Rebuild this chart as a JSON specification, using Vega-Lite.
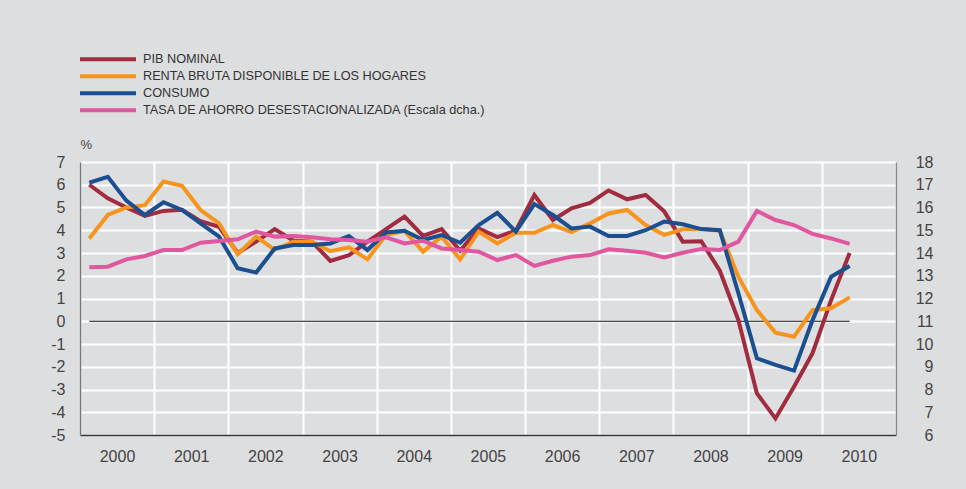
{
  "$schema": "https://vega.github.io/schema/vega-lite/v6.json",
  "width": 816,
  "height": 273,
  "autosize": {"type": "none"},
  "padding": {"left": 80, "top": 162, "right": 70, "bottom": 54},
  "background": "#dddee0",
  "config": {
    "view": {"stroke": null},
    "font": "Liberation Sans",
    "axis": {"labelFont": "Liberation Sans", "titleFont": "Liberation Sans", "labelColor": "#444", "labelFontSize": 16, "ticks": false, "tickSize": 0, "gridColor": "#ffffff", "gridWidth": 2, "gridOpacity": 1, "labelOverlap": false, "labelSeparation": 0}
  },
  "datasets": {
    "d": [
      {"t": 2000.125, "pib": 6.0, "renta": 3.64, "consumo": 6.09, "tasa": 13.37},
      {"t": 2000.375, "pib": 5.4, "renta": 4.67, "consumo": 6.35, "tasa": 13.4},
      {"t": 2000.625, "pib": 5.0, "renta": 5.0, "consumo": 5.3, "tasa": 13.72},
      {"t": 2000.875, "pib": 4.63, "renta": 5.1, "consumo": 4.67, "tasa": 13.87},
      {"t": 2001.125, "pib": 4.85, "renta": 6.14, "consumo": 5.23, "tasa": 14.13},
      {"t": 2001.375, "pib": 4.9, "renta": 5.95, "consumo": 4.89, "tasa": 14.13},
      {"t": 2001.625, "pib": 4.4, "renta": 4.89, "consumo": 4.3, "tasa": 14.45},
      {"t": 2001.875, "pib": 4.15, "renta": 4.3, "consumo": 3.72, "tasa": 14.53},
      {"t": 2002.125, "pib": 3.0, "renta": 2.95, "consumo": 2.33, "tasa": 14.6},
      {"t": 2002.375, "pib": 3.5, "renta": 3.72, "consumo": 2.14, "tasa": 14.94},
      {"t": 2002.625, "pib": 4.05, "renta": 3.14, "consumo": 3.2, "tasa": 14.72},
      {"t": 2002.875, "pib": 3.55, "renta": 3.5, "consumo": 3.35, "tasa": 14.75},
      {"t": 2003.125, "pib": 3.5, "renta": 3.5, "consumo": 3.35, "tasa": 14.69},
      {"t": 2003.375, "pib": 2.65, "renta": 3.08, "consumo": 3.42, "tasa": 14.6},
      {"t": 2003.625, "pib": 2.9, "renta": 3.25, "consumo": 3.75, "tasa": 14.57},
      {"t": 2003.875, "pib": 3.5, "renta": 2.72, "consumo": 3.13, "tasa": 14.5},
      {"t": 2004.125, "pib": 4.05, "renta": 3.8, "consumo": 3.9, "tasa": 14.69},
      {"t": 2004.375, "pib": 4.6, "renta": 3.97, "consumo": 3.98, "tasa": 14.42},
      {"t": 2004.625, "pib": 3.75, "renta": 3.06, "consumo": 3.57, "tasa": 14.54},
      {"t": 2004.875, "pib": 4.05, "renta": 3.72, "consumo": 3.79, "tasa": 14.2},
      {"t": 2005.125, "pib": 3.1, "renta": 2.72, "consumo": 3.45, "tasa": 14.13},
      {"t": 2005.375, "pib": 4.08, "renta": 3.94, "consumo": 4.23, "tasa": 14.06},
      {"t": 2005.625, "pib": 3.7, "renta": 3.42, "consumo": 4.77, "tasa": 13.69},
      {"t": 2005.875, "pib": 3.98, "renta": 3.89, "consumo": 3.94, "tasa": 13.91},
      {"t": 2006.125, "pib": 5.55, "renta": 3.89, "consumo": 5.15, "tasa": 13.43},
      {"t": 2006.375, "pib": 4.45, "renta": 4.23, "consumo": 4.67, "tasa": 13.66},
      {"t": 2006.625, "pib": 4.96, "renta": 3.92, "consumo": 4.08, "tasa": 13.84},
      {"t": 2006.875, "pib": 5.2, "renta": 4.3, "consumo": 4.16, "tasa": 13.91},
      {"t": 2007.125, "pib": 5.75, "renta": 4.74, "consumo": 3.75, "tasa": 14.16},
      {"t": 2007.375, "pib": 5.36, "renta": 4.89, "consumo": 3.75, "tasa": 14.1},
      {"t": 2007.625, "pib": 5.55, "renta": 4.23, "consumo": 4.0, "tasa": 14.01},
      {"t": 2007.875, "pib": 4.83, "renta": 3.8, "consumo": 4.38, "tasa": 13.81},
      {"t": 2008.125, "pib": 3.5, "renta": 4.04, "consumo": 4.26, "tasa": 14.01},
      {"t": 2008.375, "pib": 3.52, "renta": 4.06, "consumo": 4.05, "tasa": 14.18},
      {"t": 2008.625, "pib": 2.22, "renta": 3.98, "consumo": 4.0, "tasa": 14.13},
      {"t": 2008.875, "pib": 0.05, "renta": 1.96, "consumo": 1.23, "tasa": 14.5},
      {"t": 2009.125, "pib": -3.17, "renta": 0.49, "consumo": -1.63, "tasa": 15.85},
      {"t": 2009.375, "pib": -4.27, "renta": -0.5, "consumo": -1.92, "tasa": 15.45},
      {"t": 2009.625, "pib": -2.88, "renta": -0.68, "consumo": -2.17, "tasa": 15.23},
      {"t": 2009.875, "pib": -1.4, "renta": 0.49, "consumo": 0.05, "tasa": 14.84},
      {"t": 2010.125, "pib": 0.93, "renta": 0.57, "consumo": 1.96, "tasa": 14.64},
      {"t": 2010.375, "pib": 3.0, "renta": 1.05, "consumo": 2.43, "tasa": 14.4}
    ]
  },
  "data": {"name": "d"},
  "layer": [
    {
      "layer": [
        {
          "data": {"values": [{"a": 2000.125, "b": 2010.375, "z": 0}]},
          "mark": {"type": "rule", "color": "#111111", "strokeWidth": 1},
          "encoding": {
            "x": {"field": "a", "type": "quantitative", "scale": {"domain": [2000, 2011], "nice": false, "zero": false},
              "axis": {"values": [2000, 2001, 2002, 2003, 2004, 2005, 2006, 2007, 2008, 2009, 2010, 2011], "format": "d", "labelExpr": "datum.value < 2011 ? datum.label : ''", "labelOffset": 37, "labelFlush": false, "labelOverlap": false, "labelBound": false, "labelPadding": 13, "grid": true, "domainColor": "#333333", "domainWidth": 1.5, "title": null}},
            "x2": {"field": "b"},
            "y": {"field": "z", "type": "quantitative", "scale": {"domain": [-5, 7], "nice": false, "zero": false},
              "axis": {"orient": "left", "values": [-5, -4, -3, -2, -1, 0, 1, 2, 3, 4, 5, 6, 7], "labelExpr": "'' + datum.value", "labelOverlap": false, "labelSeparation": 0, "grid": true, "domainColor": "#777777", "domainWidth": 1.5, "labelPadding": 15, "title": "%", "titleAngle": 0, "titleX": 0, "titleY": -18, "titleAlign": "left", "titleBaseline": "middle", "titleFontSize": 13, "titleFontWeight": "normal", "titleColor": "#444"}}
          }
        },
        {
          "mark": {"type": "line", "strokeWidth": 4},
          "encoding": {
            "x": {"field": "t", "type": "quantitative"},
            "y": {"field": "pib", "type": "quantitative",
              "axis": {"orient": "left", "values": [-5, -4, -3, -2, -1, 0, 1, 2, 3, 4, 5, 6, 7], "labelExpr": "'' + datum.value", "labelOverlap": false, "labelSeparation": 0, "grid": true, "domainColor": "#777777", "domainWidth": 1.5, "labelPadding": 15, "title": "%", "titleAngle": 0, "titleX": 0, "titleY": -18, "titleAlign": "left", "titleBaseline": "middle", "titleFontSize": 13, "titleFontWeight": "normal", "titleColor": "#444"}},
            "color": {"datum": "PIB NOMINAL", "type": "nominal",
              "scale": {"domain": ["PIB NOMINAL", "RENTA BRUTA DISPONIBLE DE LOS HOGARES", "CONSUMO", "TASA DE AHORRO DESESTACIONALIZADA (Escala dcha.)"], "range": ["#a12b3f", "#f7941e", "#1c4f8f", "#e0579f"]},
              "legend": {"orient": "none", "legendX": -2, "legendY": -111, "title": null, "symbolType": "stroke", "symbolSize": 3136, "symbolStrokeWidth": 4, "clipHeight": 16.7, "rowPadding": 0, "padding": 0, "labelFont": "Liberation Sans", "labelFontSize": 12.7, "labelColor": "#333", "labelOffset": 5, "labelLimit": 600}}
          }
        },
        {
          "mark": {"type": "line", "strokeWidth": 4},
          "encoding": {
            "x": {"field": "t", "type": "quantitative"},
            "y": {"field": "renta", "type": "quantitative",
              "axis": {"orient": "left", "values": [-5, -4, -3, -2, -1, 0, 1, 2, 3, 4, 5, 6, 7], "labelExpr": "'' + datum.value", "labelOverlap": false, "labelSeparation": 0, "grid": true, "domainColor": "#777777", "domainWidth": 1.5, "labelPadding": 15, "title": "%", "titleAngle": 0, "titleX": 0, "titleY": -18, "titleAlign": "left", "titleBaseline": "middle", "titleFontSize": 13, "titleFontWeight": "normal", "titleColor": "#444"}},
            "color": {"datum": "RENTA BRUTA DISPONIBLE DE LOS HOGARES", "type": "nominal"}
          }
        },
        {
          "mark": {"type": "line", "strokeWidth": 4},
          "encoding": {
            "x": {"field": "t", "type": "quantitative"},
            "y": {"field": "consumo", "type": "quantitative",
              "axis": {"orient": "left", "values": [-5, -4, -3, -2, -1, 0, 1, 2, 3, 4, 5, 6, 7], "labelExpr": "'' + datum.value", "labelOverlap": false, "labelSeparation": 0, "grid": true, "domainColor": "#777777", "domainWidth": 1.5, "labelPadding": 15, "title": "%", "titleAngle": 0, "titleX": 0, "titleY": -18, "titleAlign": "left", "titleBaseline": "middle", "titleFontSize": 13, "titleFontWeight": "normal", "titleColor": "#444"}},
            "color": {"datum": "CONSUMO", "type": "nominal"}
          }
        }
      ]
    },
    {
      "mark": {"type": "line", "strokeWidth": 4},
      "encoding": {
        "x": {"field": "t", "type": "quantitative"},
        "y": {"field": "tasa", "type": "quantitative", "scale": {"domain": [6, 18], "nice": false, "zero": false},
          "axis": {"orient": "right", "values": [6, 7, 8, 9, 10, 11, 12, 13, 14, 15, 16, 17, 18], "labelOverlap": false, "grid": false, "domainColor": "#888888", "domainWidth": 1.5, "labelAlign": "right", "labelPadding": 37, "title": null}},
        "color": {"datum": "TASA DE AHORRO DESESTACIONALIZADA (Escala dcha.)", "type": "nominal"}
      }
    }
  ],
  "resolve": {"scale": {"y": "independent"}}
}
